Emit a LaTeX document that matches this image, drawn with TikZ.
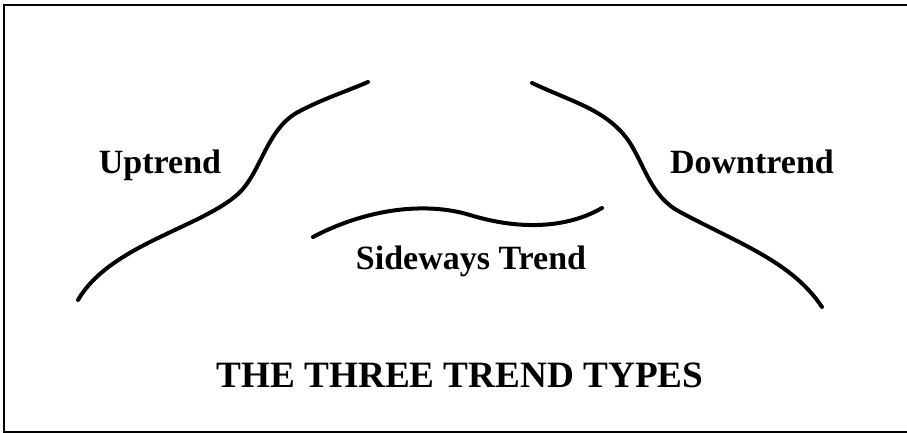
\documentclass[tikz,border=0pt]{standalone}
\usepackage{fontspec}
\setmainfont{Liberation Serif}
\usepackage{tikz}
\usetikzlibrary{positioning}

\begin{document}
\begin{tikzpicture}[
  x=0.5pt, y=-0.5pt,
  lbl/.style={font=\fontsize{17}{20}\selectfont\bfseries, inner sep=0pt},
  ttl/.style={font=\fontsize{18.6}{22}\selectfont\bfseries, inner sep=0pt},
  trend/.style={line width=2pt, line cap=round},
  frm/.style={line width=1.2pt}
]
\useasboundingbox (0,0) rectangle (907,433);

% --- frame (open on the right) ---
\draw[frm] (912,5) -- (4,5) -- (4,432) -- (912,432);

% --- uptrend ---
\draw[trend] (78,300) .. controls (110,245) and (200,228) .. (238,194)
  .. controls (262,172) and (266,128) .. (300,111)
  .. controls (325,98) and (345,92) .. (368,82);
\node[lbl] at (160,165) (up) {Uptrend};

% --- downtrend ---
\draw[trend] (532,83) .. controls (575,103) and (606,110) .. (628,140)
  .. controls (645,165) and (650,196) .. (680,212)
  .. controls (740,244) and (792,262) .. (822,307);
\node[lbl] at (752,162) (down) {Downtrend};

% --- sideways ---
\draw[trend] (313,237) .. controls (360,212) and (420,200) .. (470,215)
  .. controls (512,228) and (562,231) .. (602,208);
\node[lbl] at (471,261) (side) {Sideways Trend};

% --- caption ---
\node[ttl] at (460,375) (title) {THE THREE TREND TYPES};
\end{tikzpicture}
\end{document}
